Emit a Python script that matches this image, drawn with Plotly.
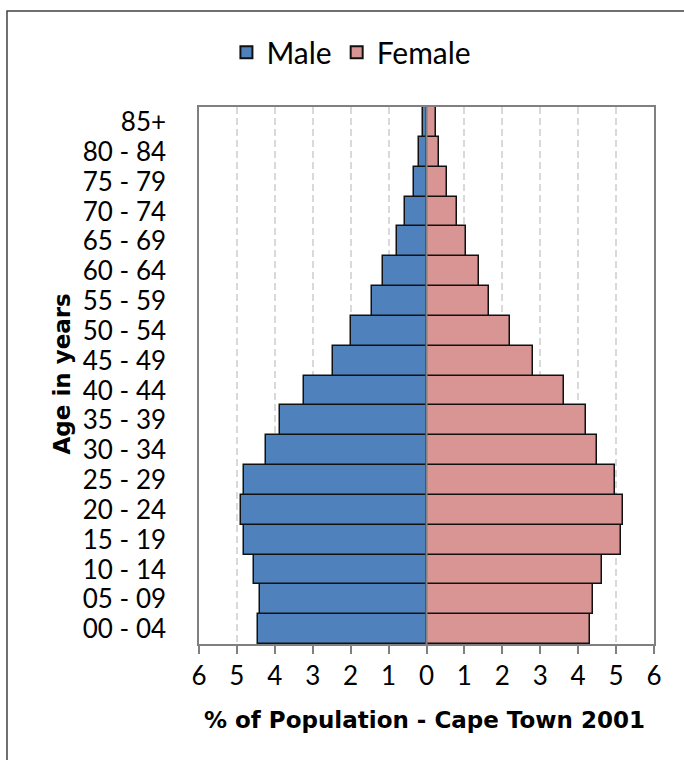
import plotly.graph_objects as go

age_groups = ["00 - 04", "05 - 09", "10 - 14", "15 - 19", "20 - 24", "25 - 29",
              "30 - 34", "35 - 39", "40 - 44", "45 - 49", "50 - 54", "55 - 59",
              "60 - 64", "65 - 69", "70 - 74", "75 - 79", "80 - 84", "85+"]
male_pct = [4.44, 4.40, 4.54, 4.81, 4.88, 4.82, 4.23, 3.87, 3.24, 2.46, 1.99,
            1.44, 1.14, 0.78, 0.56, 0.34, 0.21, 0.10]
female_pct = [4.32, 4.39, 4.62, 5.14, 5.18, 4.97, 4.49, 4.20, 3.63, 2.81, 2.20,
              1.64, 1.39, 1.05, 0.80, 0.54, 0.33, 0.25]
x_tick_vals = [-6, -5, -4, -3, -2, -1, 0, 1, 2, 3, 4, 5, 6]
x_tick_text = ["6", "5", "4", "3", "2", "1", "0", "1", "2", "3", "4", "5", "6"]

FONT = "Lato"
TITLE_FONT = "DejaVu Sans"
GRAY = "#808080"

fig = go.Figure()
fig.add_trace(go.Bar(
    y=age_groups, x=[-v for v in male_pct], orientation="h", name="Male",
    marker=dict(color="#4F81BD", line=dict(color="#111111", width=1.5)),
))
fig.add_trace(go.Bar(
    y=age_groups, x=female_pct, orientation="h", name="Female",
    marker=dict(color="#D99594", line=dict(color="#111111", width=1.5)),
))

fig.update_layout(
    width=684, height=760,
    margin=dict(l=199, r=30, t=107, b=116),
    paper_bgcolor="white", plot_bgcolor="white",
    barmode="relative", bargap=0,
    font=dict(family=FONT, size=26, color="#000000"),
    legend=dict(orientation="h", x=0.335, y=1.102, xanchor="center", yanchor="middle",
                font=dict(family=FONT, size=30, color="#000000"),
                bgcolor="rgba(0,0,0,0)", itemsizing="constant"),
    xaxis=dict(range=[-6, 6], tickmode="array", tickvals=x_tick_vals, ticktext=x_tick_text,
               showgrid=True, gridcolor="#d9d9d9", gridwidth=1.5, griddash="7px,4px",
               zeroline=False, showline=True, mirror=True, linecolor=GRAY, linewidth=1.5,
               ticks="outside", ticklen=8, tickwidth=1.5, tickcolor=GRAY,
               tickfont=dict(family=FONT, size=26, color="#000000"), fixedrange=True),
    yaxis=dict(categoryorder="array", categoryarray=age_groups, dtick=1,
               showgrid=False, zeroline=False, showline=True, mirror=True,
               linecolor=GRAY, linewidth=1.5, ticks="", ticklabelstandoff=26,
               tickfont=dict(family=FONT, size=26, color="#000000"), fixedrange=True),
    shapes=[
        dict(type="line", xref="x", yref="paper", x0=0, x1=0, y0=0, y1=1,
             line=dict(color=GRAY, width=2), layer="above"),
        dict(type="rect", xref="paper", yref="paper", x0=-0.422, x1=1.3, y0=-0.5, y1=1.1788,
             line=dict(color="#404040", width=1.5), fillcolor="rgba(0,0,0,0)", layer="below"),
    ],
    annotations=[
        dict(text="<b>Age in years</b>", xref="paper", yref="paper", x=-0.301, y=0.502,
             textangle=-90, showarrow=False, xanchor="center", yanchor="middle",
             font=dict(family=TITLE_FONT, size=23, color="#000000")),
        dict(text="<b>% of Population - Cape Town 2001</b>", xref="paper", yref="paper",
             x=0.495, y=-0.1415, showarrow=False, xanchor="center", yanchor="middle",
             font=dict(family=TITLE_FONT, size=23, color="#000000")),
    ],
)

fig.write_html("out.html")
